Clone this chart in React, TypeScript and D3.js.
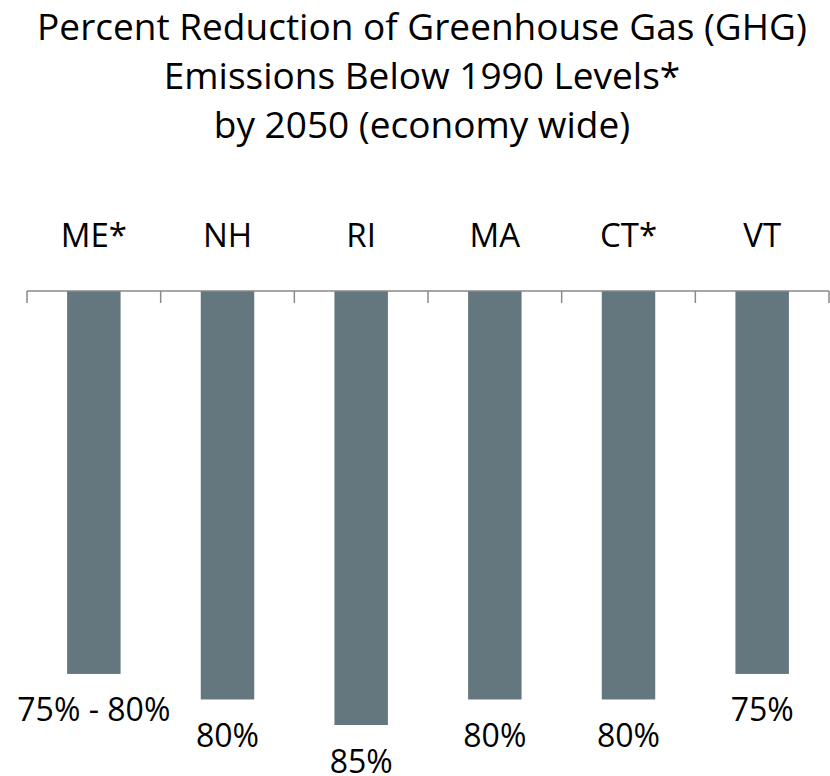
import React from 'react';
import * as d3 from 'd3';

const states = ['ME*', 'NH', 'RI', 'MA', 'CT*', 'VT'];
const reductions = [75, 80, 85, 80, 80, 75];
const valueLabels = ['75% - 80%', '80%', '85%', '80%', '80%', '75%'];
const titleLines = [
  'Percent Reduction of Greenhouse Gas (GHG)',
  'Emissions Below 1990 Levels*',
  'by 2050 (economy wide)',
];

const width = 830;
const height = 776;
const axisY = 291;
const font = '"Open Sans", sans-serif';

const App = () => {
  const x = d3.scaleBand<string>().domain(states).range([27, 829]).paddingInner(0.6).paddingOuter(0.3);
  const band = d3.scaleBand<string>().domain(states).range([27, 829]);
  const y = d3.scaleLinear().domain([0, 85]).range([axisY, 725]);

  const ticks = states.map(s => band(s)!).concat([829]);

  return (
    <svg width={width} height={height} style={{ position: 'absolute', left: 0, top: 0 }}>
      <rect width={width} height={height} fill="#fff" />
      {titleLines.map((t, i) => (
        <text key={t} x={422} y={40 + i * 49} textAnchor="middle" fontFamily={font} fontSize={37} fill="#000">
          {t}
        </text>
      ))}
      {states.map(s => (
        <text key={s} x={x(s)! + x.bandwidth() / 2} y={247} textAnchor="middle" fontFamily={font} fontSize={33} fill="#000">
          {s}
        </text>
      ))}
      {states.map((s, i) => (
        <rect key={s} x={x(s)} y={axisY} width={x.bandwidth()} height={y(reductions[i]) - axisY} fill="#64767e" />
      ))}
      <line x1={27} x2={829} y1={axisY} y2={axisY} stroke="#898989" strokeWidth={1.5} />
      {ticks.map((t, i) => (
        <line key={i} x1={t} x2={t} y1={axisY} y2={axisY + 12} stroke="#898989" strokeWidth={1.5} />
      ))}
      {states.map((s, i) => (
        <text key={s} x={x(s)! + x.bandwidth() / 2} y={y(reductions[i]) + 47.5} textAnchor="middle" fontFamily={font} fontSize={32} fill="#000">
          {valueLabels[i]}
        </text>
      ))}
    </svg>
  );
};

export default App;
